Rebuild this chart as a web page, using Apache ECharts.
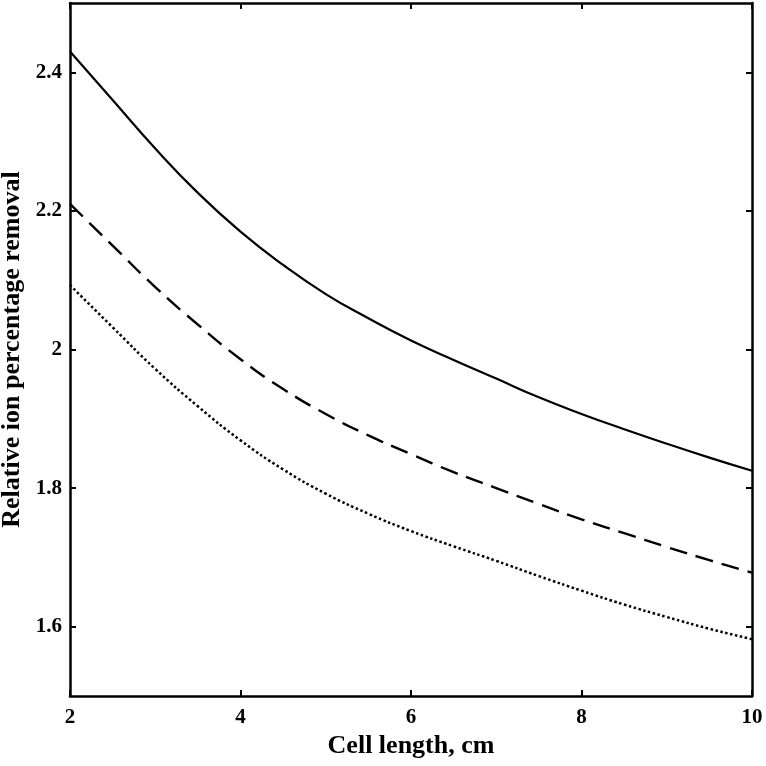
<!DOCTYPE html>
<html lang="en">
  <head>
    <meta charset="UTF-8">
    <title>Relative ion percentage removal vs cell length</title>
    <style>
      html, body { margin: 0; padding: 0; background: #fff; }
      #main { width: 766px; height: 766px; }
    </style>
  </head>
  <body>
    <div id="main"></div>
    <script src="https://cdn.jsdelivr.net/npm/echarts@6/dist/echarts.min.js"></script>
    <script type="text/javascript">
      // cell length (cm)
      var cellLength = [2, 2.5, 3, 3.5, 4, 4.5, 5, 5.5, 6, 6.5, 7, 7.5, 8, 8.5, 9, 9.5, 10];
      // relative ion percentage removal, three curves
      var solidCurve = [2.43, 2.36, 2.29, 2.226, 2.17, 2.122, 2.08, 2.045, 2.013, 1.985, 1.958, 1.931, 1.907, 1.885, 1.864, 1.844, 1.825];
      var dashedCurve = [2.21, 2.15, 2.09, 2.036, 1.986, 1.943, 1.907, 1.876, 1.849, 1.823, 1.80, 1.777, 1.755, 1.735, 1.715, 1.696, 1.678];
      var dottedCurve = [2.093, 2.032, 1.972, 1.918, 1.869, 1.827, 1.792, 1.763, 1.738, 1.716, 1.695, 1.673, 1.652, 1.632, 1.614, 1.597, 1.582];
      var yTicks = [1.6, 1.8, 2, 2.2, 2.4];

      function pairs(ys) {
        return cellLength.map(function (x, i) { return [x, ys[i]]; });
      }

      var font = 'Liberation Serif';
      var myChart = echarts.init(document.getElementById('main'));

      var option = {
        animation: false,
        backgroundColor: '#fff',
        grid: { left: 70, right: 14, top: 3, bottom: 70, containLabel: false, outerBoundsMode: 'none' },
        xAxis: [{
          type: 'value',
          min: 2, max: 10, interval: 2,
          name: 'Cell length, cm',
          nameLocation: 'middle',
          nameGap: 36,
          nameTextStyle: { fontFamily: font, fontWeight: 'bold', fontSize: 26, color: '#000' },
          axisLine: { show: true, lineStyle: { color: '#000', width: 2.5 } },
          axisTick: { show: true, inside: true, length: 6, lineStyle: { color: '#000', width: 2 } },
          axisLabel: { margin: 11, fontFamily: font, fontWeight: 'bold', fontSize: 21, color: '#000' },
          splitLine: { show: false }
        }, {
          type: 'value',
          position: 'top',
          min: 2, max: 10, interval: 2,
          axisLine: { show: true, lineStyle: { color: '#000', width: 2.5 } },
          axisTick: { show: true, inside: true, length: 6, lineStyle: { color: '#000', width: 2 } },
          axisLabel: { show: false },
          splitLine: { show: false }
        }],
        yAxis: [{
          type: 'value',
          min: 1.5, max: 2.5,
          name: 'Relative ion percentage removal',
          nameLocation: 'middle',
          nameGap: 45,
          nameTextStyle: { fontFamily: font, fontWeight: 'bold', fontSize: 26, color: '#000' },
          axisLine: { show: true, lineStyle: { color: '#000', width: 2.5 } },
          axisTick: { show: true, inside: true, length: 6, customValues: yTicks, lineStyle: { color: '#000', width: 2 } },
          axisLabel: { margin: 8, customValues: yTicks, fontFamily: font, fontWeight: 'bold', fontSize: 21, color: '#000' },
          splitLine: { show: false }
        }, {
          type: 'value',
          position: 'right',
          min: 1.5, max: 2.5,
          axisLine: { show: true, lineStyle: { color: '#000', width: 2.5 } },
          axisTick: { show: true, inside: true, length: 6, customValues: yTicks, lineStyle: { color: '#000', width: 2 } },
          axisLabel: { show: false },
          splitLine: { show: false }
        }],
        series: [{
          type: 'line', name: 'solid', data: pairs(solidCurve), smooth: 0.5, symbol: 'none',
          lineStyle: { color: '#000', width: 2.2, type: 'solid' }
        }, {
          type: 'line', name: 'dashed', data: pairs(dashedCurve), smooth: 0.5, symbol: 'none',
          lineStyle: { color: '#000', width: 2.4, type: [18, 9] }
        }, {
          type: 'line', name: 'dotted', data: pairs(dottedCurve), smooth: 0.5, symbol: 'none',
          lineStyle: { color: '#000', width: 2.5, type: [2.5, 2.5] }
        }]
      };

      myChart.setOption(option);
    </script>
  </body>
</html>
